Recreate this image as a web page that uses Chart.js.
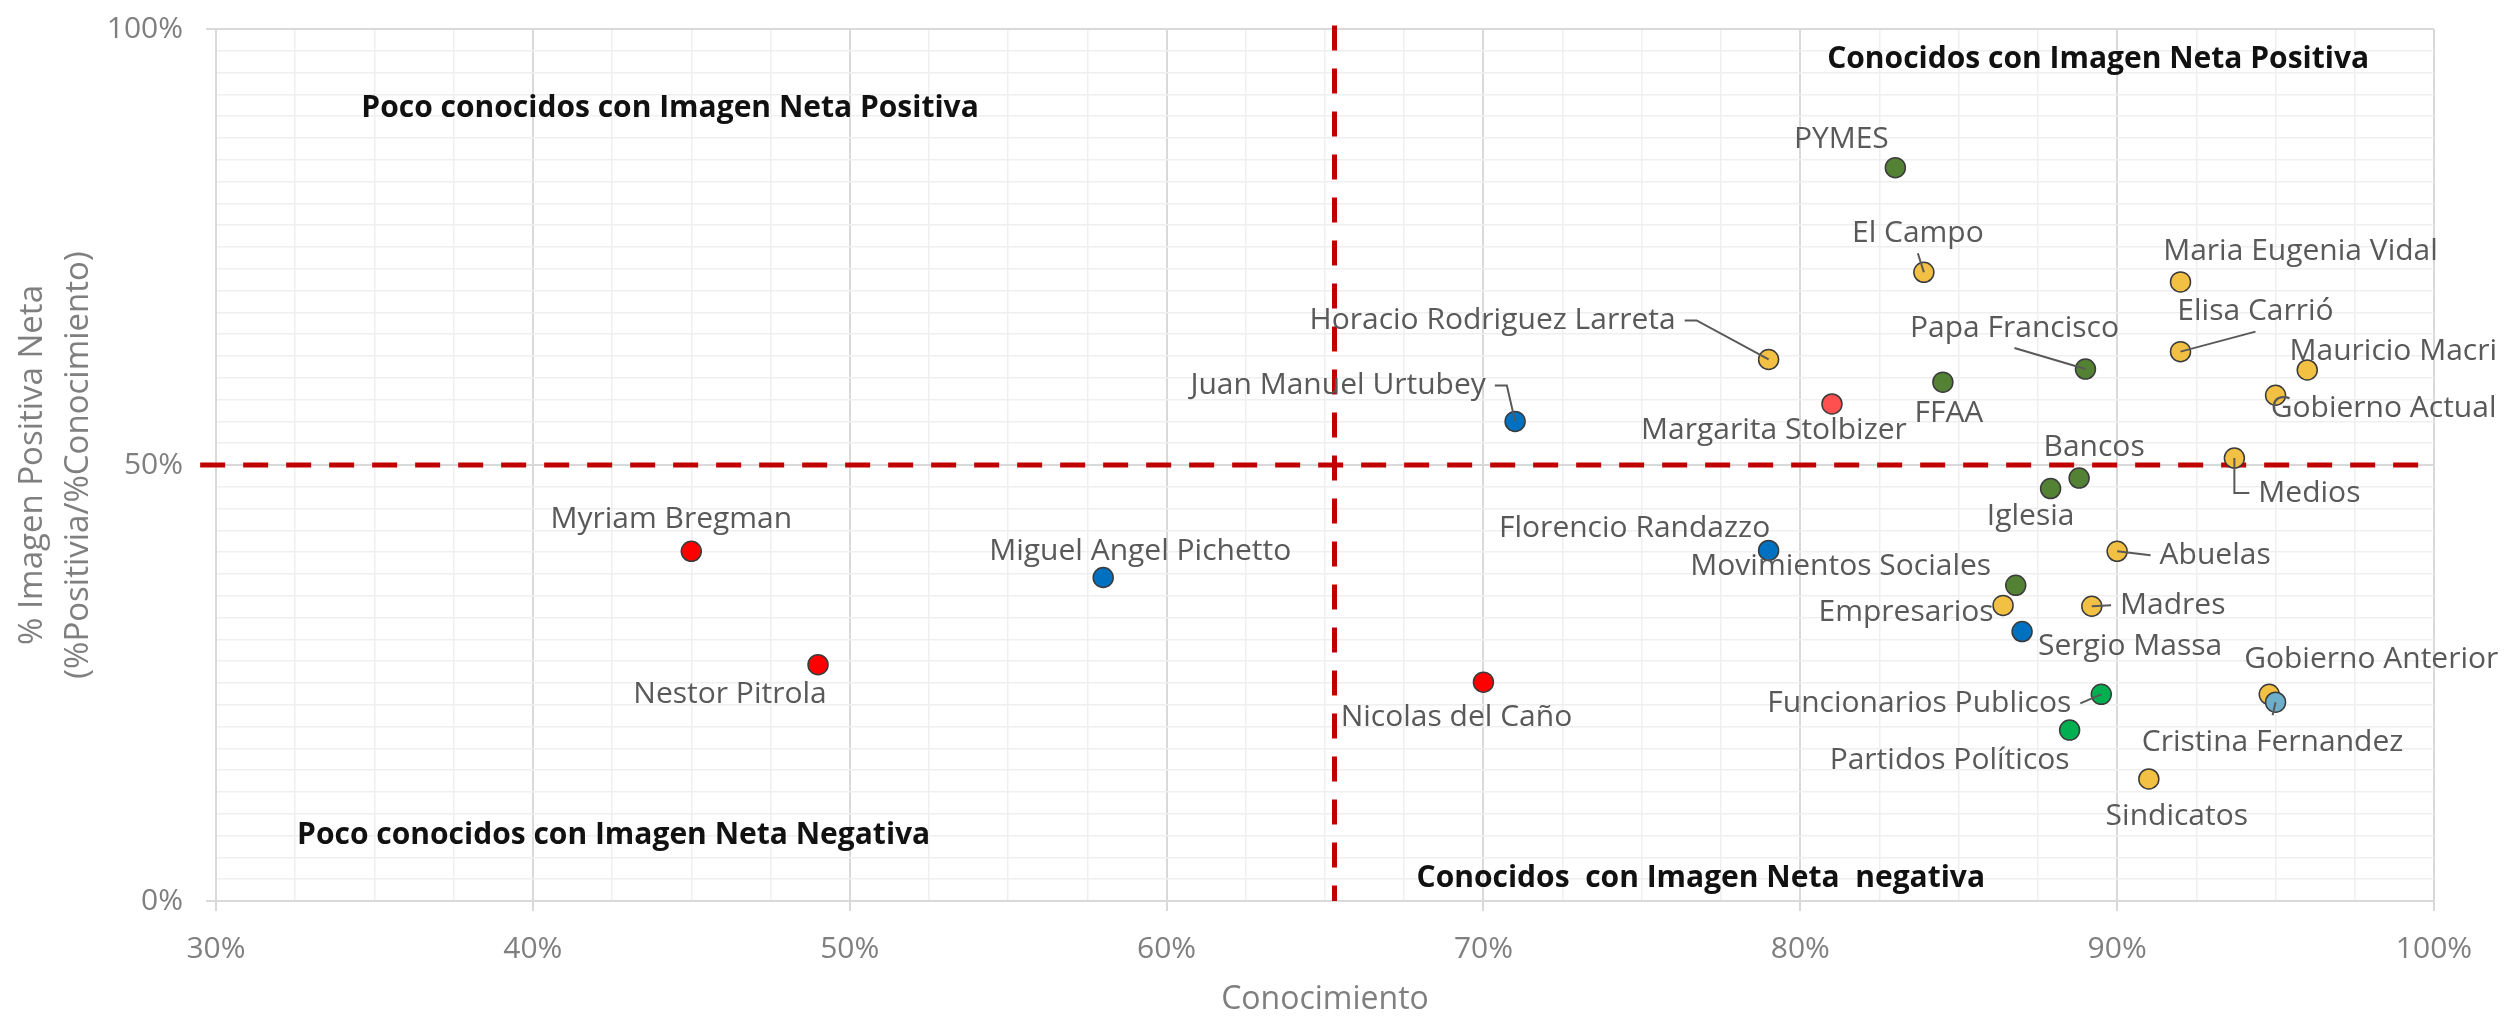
<!DOCTYPE html>
<html>
<head>
<meta charset="utf-8">
<script src="https://cdn.jsdelivr.net/npm/chart.js@4.4.1/dist/chart.umd.min.js"></script>
<style>
  html, body { margin: 0; padding: 0; background: #fff; }
  #wrap { width: 2504px; height: 1016px; position: relative; }
</style>
</head>
<body>
<div id="wrap"><canvas id="chart"></canvas></div>
<script>
// --- datos ------------------------------------------------------
const nombres = [
  'PYMES', 'El Campo', 'Maria Eugenia Vidal', 'Horacio Rodriguez Larreta', 'Elisa Carrió',
  'Papa Francisco', 'Mauricio Macri', 'FFAA', 'Gobierno Actual', 'Margarita Stolbizer',
  'Juan Manuel Urtubey', 'Medios', 'Bancos', 'Iglesia', 'Florencio Randazzo',
  'Abuelas', 'Myriam Bregman', 'Miguel Angel Pichetto', 'Movimientos Sociales', 'Empresarios',
  'Madres', 'Sergio Massa', 'Nestor Pitrola', 'Nicolas del Caño', 'Funcionarios Publicos',
  'Gobierno Anterior', 'Cristina Fernandez', 'Partidos Políticos', 'Sindicatos'
];
const conocimiento = [
  83.0, 83.9, 92.0, 79.0, 92.0,
  89.0, 96.0, 84.5, 95.0, 81.0,
  71.0, 93.7, 88.8, 87.9, 79.0,
  90.0, 45.0, 58.0, 86.8, 86.4,
  89.2, 87.0, 49.0, 70.0, 89.5,
  94.8, 95.0, 88.5, 91.0
];
const imagen = [
  84.1, 72.1, 71.0, 62.1, 63.0,
  61.0, 60.9, 59.5, 58.0, 57.0,
  55.0, 50.8, 48.5, 47.3, 40.2,
  40.1, 40.1, 37.1, 36.2, 33.9,
  33.8, 30.9, 27.1, 25.1, 23.7,
  23.7, 22.8, 19.6, 14.0
];
const grupo = [
  'verdeOsc', 'amarillo', 'amarillo', 'amarillo', 'amarillo',
  'verdeOsc', 'amarillo', 'verdeOsc', 'amarillo', 'salmon',
  'azul', 'amarillo', 'verdeOsc', 'verdeOsc', 'azul',
  'amarillo', 'rojo', 'azul', 'verdeOsc', 'amarillo',
  'amarillo', 'azul', 'rojo', 'rojo', 'verde',
  'amarillo', 'celeste', 'verde', 'amarillo'
];

// líneas de corte de los cuadrantes
const corteConocimiento = 65.3;
const corteImagen = 50;

const cuadrantes = [
  'Poco conocidos con Imagen Neta Positiva',
  'Conocidos con Imagen Neta Positiva',
  'Poco conocidos con Imagen Neta Negativa',
  'Conocidos  con Imagen Neta  negativa'
];

const tituloX = 'Conocimiento';
const tituloY = ['% Imagen Positiva Neta', '(%Positivia/%Conocimiento)'];

// --- estilos / ubicación de textos -------------------------------
const colores = {
  amarillo: '#F2C043', verdeOsc: '#548235', verde: '#00B050', azul: '#0070C0',
  rojo: '#FF0000', salmon: '#FF5050', celeste: '#6DAFCB'
};

// desplazamiento de la etiqueta respecto del punto (px) y tipo de guía
const posEtiqueta = {
  'PYMES': [-54, -28],
  'El Campo': [-6, -39, 'b'],
  'Maria Eugenia Vidal': [120, -30],
  'Horacio Rodriguez Larreta': [-276, -39, 'rs'],
  'Elisa Carrió': [75, -40, 'b'],
  'Papa Francisco': [-71, -41, 'b'],
  'Mauricio Macri': [86, -18],
  'FFAA': [6, 31],
  'Gobierno Actual': [108, 13],
  'Margarita Stolbizer': [-58, 26],
  'Juan Manuel Urtubey': [-177, -36, 'rs'],
  'Medios': [75, 35, 'le'],
  'Bancos': [15, -31],
  'Iglesia': [-20, 28],
  'Florencio Randazzo': [-134, -22],
  'Abuelas': [98, 4, 'l'],
  'Myriam Bregman': [-20, -32],
  'Miguel Angel Pichetto': [37, -26],
  'Movimientos Sociales': [-175, -19],
  'Empresarios': [-97, 7],
  'Madres': [81, -1, 'l'],
  'Sergio Massa': [108, 15],
  'Nestor Pitrola': [-88, 30],
  'Nicolas del Caño': [-27, 35],
  'Funcionarios Publicos': [-182, 9, 'r'],
  'Gobierno Anterior': [102, -35],
  'Cristina Fernandez': [-3, 40, 't'],
  'Partidos Políticos': [-120, 30],
  'Sindicatos': [28, 38]
};
// centro de cada texto de cuadrante, en unidades de los ejes
const cuadX = [44.33, 89.4, 42.55, 76.86];
const cuadY = [90.94, 96.56, 7.49, 2.6];

const FONT = '"Open Sans", "Noto Sans", sans-serif';
const esMayor = (v, paso) => Math.abs(v - Math.round(v / paso) * paso) < 1e-6;

function guia(ctx, tipo, px, py, cx, cy, w) {
  const g = 9;
  ctx.beginPath();
  if (tipo === 'b') { ctx.moveTo(cx, cy + 20); ctx.lineTo(px, py); }
  else if (tipo === 't') { ctx.moveTo(cx, cy - 27); ctx.lineTo(px, py); }
  else if (tipo === 'l') { ctx.moveTo(cx - w / 2 - g, cy); ctx.lineTo(px, py); }
  else if (tipo === 'r') { ctx.moveTo(cx + w / 2 + g, cy); ctx.lineTo(px, py); }
  else if (tipo === 'rs') {
    const sx = cx + w / 2 + g;
    ctx.moveTo(sx, cy); ctx.lineTo(sx + 12, cy); ctx.lineTo(px, py);
  } else if (tipo === 'le') {
    ctx.moveTo(px, py); ctx.lineTo(px, cy); ctx.lineTo(cx - w / 2 - g, cy);
  }
  ctx.stroke();
}

// etiquetas de datos + textos de cuadrantes
const etiquetas = {
  id: 'etiquetas',
  afterDatasetsDraw(chart) {
    const { ctx, scales: { x, y } } = chart;
    ctx.save();
    ctx.textAlign = 'center';
    ctx.textBaseline = 'middle';
    ctx.font = '30px ' + FONT;
    ctx.strokeStyle = '#595959';
    ctx.lineWidth = 2;
    nombres.forEach((n, i) => {
      const px = x.getPixelForValue(conocimiento[i]);
      const py = y.getPixelForValue(imagen[i]);
      const [dx, dy, tipo] = posEtiqueta[n];
      const cx = px + dx, cy = py + dy;
      const w = ctx.measureText(n).width;
      if (tipo) guia(ctx, tipo, px, py, cx, cy, w);
      ctx.fillStyle = '#595959';
      ctx.fillText(n, cx, cy);
    });
    ctx.font = 'bold 30px ' + FONT;
    ctx.fillStyle = '#111111';
    cuadrantes.forEach((t, i) => {
      ctx.fillText(t, x.getPixelForValue(cuadX[i]), y.getPixelForValue(cuadY[i]));
    });
    ctx.restore();
  }
};

const corte = {
  type: 'line', borderColor: '#C00000', borderWidth: 5, borderDash: [25, 18],
  borderCapStyle: 'butt', pointRadius: 0, pointHoverRadius: 0, fill: false,
  tension: 0, clip: false, order: 2
};

new Chart(document.getElementById('chart'), {
  type: 'scatter',
  data: {
    datasets: [
      {
        label: 'Actores',
        data: nombres.map((n, i) => ({ x: conocimiento[i], y: imagen[i] })),
        pointBackgroundColor: grupo.map(g => colores[g]),
        pointBorderColor: '#3b3b3b',
        pointBorderWidth: 1.5,
        pointRadius: 10,
        pointHoverRadius: 10,
        order: 1
      },
      Object.assign({ data: [{ x: 29.5, y: corteImagen }, { x: 99.75, y: corteImagen }] }, corte),
      Object.assign({ data: [{ x: corteConocimiento, y: 100.4 }, { x: corteConocimiento, y: 0 }] }, corte)
    ]
  },
  options: {
    responsive: true,
    maintainAspectRatio: false,
    animation: false,
    layout: { padding: { top: 29, right: 70, left: 0, bottom: 0 } },
    plugins: { legend: { display: false }, tooltip: { enabled: false } },
    scales: {
      x: {
        type: 'linear', min: 30, max: 100,
        afterFit(s) { s.height = 115; s.paddingLeft = 0; s.paddingRight = 0; },
        ticks: {
          stepSize: 2.5, autoSkip: false, maxRotation: 0, padding: 20,
          color: '#7f7f7f', font: { family: FONT, size: 30 },
          callback: v => esMayor(v, 10) ? Math.round(v) + '%' : ''
        },
        grid: {
          color: c => esMayor(c.tick.value, 10) ? '#d9d9d9' : '#efefef',
          lineWidth: c => esMayor(c.tick.value, 10) ? 2 : 1.5,
          tickLength: 10,
          tickColor: c => esMayor(c.tick.value, 10) ? '#d9d9d9' : 'rgba(0,0,0,0)'
        },
        border: { color: '#d9d9d9', width: 2 },
        title: {
          display: true, text: tituloX, color: '#7f7f7f',
          font: { family: FONT, size: 32, lineHeight: 1 }, padding: 0
        }
      },
      y: {
        type: 'linear', min: 0, max: 100,
        afterFit(s) { s.width = 216; s.paddingTop = 0; s.paddingBottom = 0; },
        ticks: {
          stepSize: 2.5, autoSkip: false, padding: 23,
          color: '#7f7f7f', font: { family: FONT, size: 30 },
          callback: v => esMayor(v, 50) ? Math.round(v) + '%' : ''
        },
        grid: {
          color: c => esMayor(c.tick.value, 50) ? '#d9d9d9' : '#efefef',
          lineWidth: c => esMayor(c.tick.value, 50) ? 2 : 1.5,
          tickLength: 10,
          tickColor: c => esMayor(c.tick.value, 50) ? '#d9d9d9' : 'rgba(0,0,0,0)'
        },
        border: { color: '#d9d9d9', width: 2 },
        title: {
          display: true, text: tituloY, color: '#7f7f7f',
          font: { family: FONT, size: 33, lineHeight: 1.4 }, padding: { top: 9, bottom: 0 }
        }
      }
    }
  },
  plugins: [etiquetas]
});
</script>
</body>
</html>
